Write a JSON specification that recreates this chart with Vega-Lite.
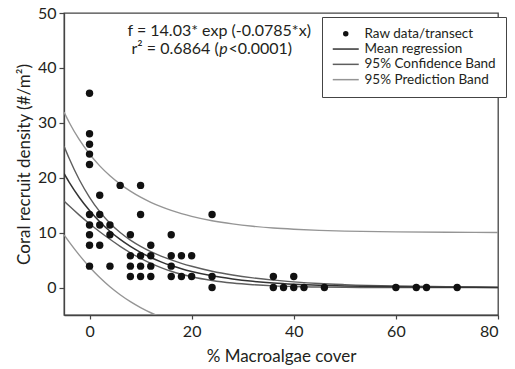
{
  "$schema": "https://vega.github.io/schema/vega-lite/v6.json",
  "width": 434,
  "height": 302,
  "autosize": {"type": "none"},
  "padding": {"left": 64, "top": 13, "right": 17, "bottom": 54},
  "background": "white",
  "datasets": {
    "pts": [
      {"x":0,"y":35.4},{"x":0,"y":28.0},{"x":0,"y":26.1},{"x":0,"y":24.3},{"x":0,"y":22.4},{"x":0,"y":13.3},{"x":0,"y":11.4},{"x":0,"y":9.6},{"x":0,"y":7.7},{"x":0,"y":3.9},
      {"x":2,"y":16.8},{"x":2,"y":13.3},{"x":2,"y":11.4},{"x":2,"y":7.7},
      {"x":4,"y":11.4},{"x":4,"y":9.6},{"x":4,"y":3.9},
      {"x":6,"y":18.6},
      {"x":8,"y":9.6},{"x":8,"y":5.8},{"x":8,"y":3.9},{"x":8,"y":2.0},
      {"x":10,"y":18.6},{"x":10,"y":13.3},{"x":10,"y":5.8},{"x":10,"y":3.9},{"x":10,"y":2.0},
      {"x":12,"y":7.7},{"x":12,"y":5.8},{"x":12,"y":3.9},{"x":12,"y":2.0},
      {"x":16,"y":9.6},{"x":16,"y":5.8},{"x":16,"y":3.9},{"x":16,"y":2.0},
      {"x":18,"y":5.8},{"x":18,"y":2.0},
      {"x":20,"y":5.8},{"x":20,"y":2.0},
      {"x":24,"y":13.3},{"x":24,"y":2.0},{"x":24,"y":0},
      {"x":36,"y":2.0},{"x":36,"y":0},{"x":38,"y":0},{"x":40,"y":2.0},{"x":40,"y":0},{"x":42,"y":0},{"x":46,"y":0},{"x":60,"y":0},{"x":64,"y":0},{"x":66,"y":0},{"x":72,"y":0}
    ],
    "fit": [
      {"x":-5,"m":20.77,"cu":25.77,"cl":15.77,"pu":31.95,"pl":9.59},
      {"x":-4,"m":19.21,"cu":23.54,"cl":14.88,"pu":30.11,"pl":8.31},
      {"x":-2,"m":16.41,"cu":19.63,"cl":13.19,"pu":26.92,"pl":5.90},
      {"x":0,"m":14.03,"cu":16.44,"cl":11.62,"pu":24.32,"pl":3.74},
      {"x":2,"m":11.99,"cu":13.82,"cl":10.16,"pu":22.16,"pl":1.82},
      {"x":4,"m":10.25,"cu":11.71,"cl":8.79,"pu":20.36,"pl":0.14},
      {"x":6,"m":8.76,"cu":10.01,"cl":7.51,"pu":18.84,"pl":-1.32},
      {"x":8,"m":7.49,"cu":8.64,"cl":6.34,"pu":17.56,"pl":-2.58},
      {"x":10,"m":6.40,"cu":7.50,"cl":5.30,"pu":16.46,"pl":-3.66},
      {"x":12,"m":5.47,"cu":6.54,"cl":4.40,"pu":15.53,"pl":-4.59},
      {"x":14,"m":4.68,"cu":5.73,"cl":3.63,"pu":14.74,"pl":-5.38},
      {"x":16,"m":4.00,"cu":5.03,"cl":2.97,"pu":14.05,"pl":-6.05},
      {"x":18,"m":3.42,"cu":4.41,"cl":2.43,"pu":13.47,"pl":null},
      {"x":20,"m":2.92,"cu":3.87,"cl":1.97,"pu":12.97,"pl":null},
      {"x":24,"m":2.13,"cu":2.97,"cl":1.29,"pu":12.17,"pl":null},
      {"x":28,"m":1.56,"cu":2.29,"cl":0.83,"pu":11.59,"pl":null},
      {"x":32,"m":1.14,"cu":1.76,"cl":0.52,"pu":11.16,"pl":null},
      {"x":36,"m":0.83,"cu":1.35,"cl":0.31,"pu":10.84,"pl":null},
      {"x":40,"m":0.61,"cu":1.04,"cl":0.18,"pu":10.62,"pl":null},
      {"x":45,"m":0.41,"cu":0.73,"cl":0.09,"pu":10.42,"pl":null},
      {"x":50,"m":0.28,"cu":0.53,"cl":0.03,"pu":10.28,"pl":null},
      {"x":60,"m":0.13,"cu":0.27,"cl":-0.01,"pu":10.13,"pl":null},
      {"x":70,"m":0.06,"cu":0.14,"cl":-0.02,"pu":10.06,"pl":null},
      {"x":80,"m":0.03,"cu":0.07,"cl":-0.01,"pu":10.03,"pl":null}
    ],
    "one": [{"a": 1}]
  },
  "layer": [
    {
      "data": {"name": "fit"},
      "transform": [{"fold": ["pu", "pl"], "as": ["k", "v"]}, {"filter": "isValid(datum.v)"}],
      "mark": {"type": "line", "interpolate": "monotone", "strokeWidth": 1.4, "clip": true},
      "encoding": {
        "x": {"field": "x", "type": "quantitative", "scale": {"domain": [-5, 80], "nice": false, "zero": false},
              "axis": {"values": [0, 20, 40, 60, 80], "title": "% Macroalgae cover", "tickSize": 4, "labelPadding": 4, "titlePadding": 9}},
        "y": {"field": "v", "type": "quantitative", "scale": {"domain": [-5, 50], "nice": false, "zero": false},
              "axis": {"values": [0, 10, 20, 30, 40, 50], "title": "Coral recruit density (#/m²)", "tickSize": 5, "labelPadding": 3, "titlePadding": 4}},
        "detail": {"field": "k"},
        "color": {"datum": "95% Prediction Band", "type": "nominal",
                  "scale": {"domain": ["Raw data/transect", "Mean regression", "95% Confidence Band", "95% Prediction Band"], "range": ["#111111", "#333333", "#5e5e5e", "#959595"]},
                  "legend": {"title": null, "encode": {"symbols": {"update": {
                    "shape": {"signal": "datum.value === 'Raw data/transect' ? 'circle' : 'M-2.6,0H2.6'"},
                    "size": {"signal": "datum.value === 'Raw data/transect' ? 30 : 100"},
                    "fill": {"signal": "datum.value === 'Raw data/transect' ? '#111111' : 'transparent'"},
                    "stroke": {"signal": "scale('color', datum.value)"},
                    "strokeWidth": {"signal": "datum.value === 'Raw data/transect' ? 0 : 1.5"},
                    "opacity": {"value": 1}
                  }}}}}
      }
    },
    {
      "data": {"name": "fit"},
      "transform": [{"fold": ["cu", "cl"], "as": ["k", "v"]}],
      "mark": {"type": "line", "interpolate": "monotone", "strokeWidth": 1.4, "clip": true},
      "encoding": {
        "x": {"field": "x", "type": "quantitative"},
        "y": {"field": "v", "type": "quantitative"},
        "detail": {"field": "k"},
        "color": {"datum": "95% Confidence Band", "type": "nominal"}
      }
    },
    {
      "data": {"name": "fit"},
      "mark": {"type": "line", "interpolate": "monotone", "strokeWidth": 1.5, "clip": true},
      "encoding": {
        "x": {"field": "x", "type": "quantitative"},
        "y": {"field": "m", "type": "quantitative"},
        "color": {"datum": "Mean regression", "type": "nominal"}
      }
    },
    {
      "data": {"name": "pts"},
      "mark": {"type": "point", "filled": true, "shape": "circle", "size": 55, "opacity": 1},
      "encoding": {
        "x": {"field": "x", "type": "quantitative"},
        "y": {"field": "y", "type": "quantitative"},
        "color": {"datum": "Raw data/transect", "type": "nominal"}
      }
    },
    {
      "data": {"name": "one"},
      "mark": {"type": "text", "text": "f = 14.03* exp (-0.0785*x)", "align": "center", "baseline": "middle", "font": "Lato", "fontSize": 16, "color": "#231f20"},
      "encoding": {"x": {"datum": 25.4, "type": "quantitative"}, "y": {"datum": 46.8, "type": "quantitative"}}
    },
    {
      "data": {"name": "one"},
      "mark": {"type": "text", "text": "r² = 0.6864 (", "align": "right", "baseline": "middle", "font": "Lato", "fontSize": 16, "color": "#231f20"},
      "encoding": {"x": {"datum": 25.3, "type": "quantitative"}, "y": {"datum": 43.5, "type": "quantitative"}}
    },
    {
      "data": {"name": "one"},
      "mark": {"type": "text", "text": "p", "align": "left", "baseline": "middle", "font": "Lato", "fontSize": 16, "fontStyle": "italic", "color": "#231f20"},
      "encoding": {"x": {"datum": 25.4, "type": "quantitative"}, "y": {"datum": 43.5, "type": "quantitative"}}
    },
    {
      "data": {"name": "one"},
      "mark": {"type": "text", "text": "<0.0001)", "align": "left", "baseline": "middle", "font": "Lato", "fontSize": 16, "color": "#231f20"},
      "encoding": {"x": {"datum": 27.2, "type": "quantitative"}, "y": {"datum": 43.5, "type": "quantitative"}}
    }
  ],
  "config": {
    "view": {"stroke": "#444444", "strokeWidth": 1.3},
    "axis": {
      "grid": false,
      "labelFont": "Lato", "labelFontSize": 16, "labelColor": "#231f20",
      "titleFont": "Lato", "titleFontSize": 17, "titleFontWeight": "normal", "titleColor": "#231f20",
      "domainColor": "#444444", "domainWidth": 1.3, "tickColor": "#444444", "tickWidth": 1.2
    },
    "legend": {
      "orient": "none", "legendX": 258, "legendY": 4,
      "strokeColor": "#444444", "fillColor": "white", "padding": 10,
      "rowPadding": 0.3, "labelFont": "Lato", "labelFontSize": 13.5, "labelColor": "#231f20",
      "symbolSize": 100, "symbolType": "M-2.6,0H2.6", "symbolStrokeWidth": 1.5,
      "labelOffset": 12, "symbolOffset": 7, "labelLimit": 300, "symbolOpacity": 1
    }
  }
}
